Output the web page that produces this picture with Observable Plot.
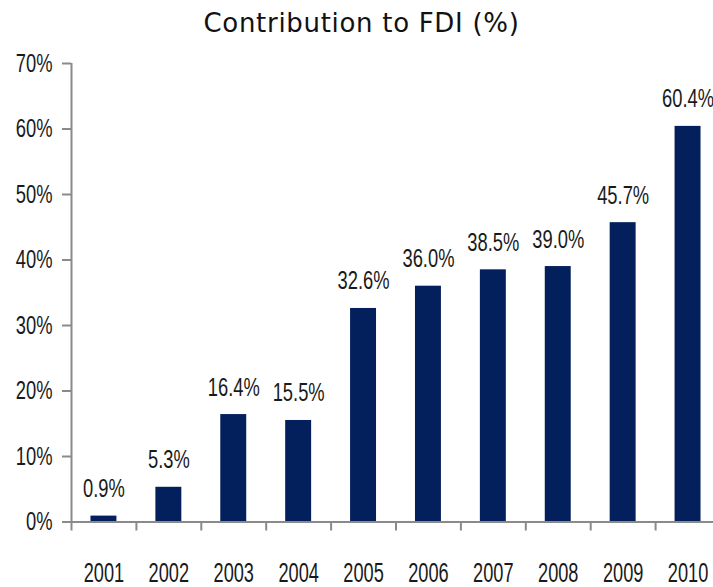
<!DOCTYPE html>
<html>
<head>
<meta charset="utf-8">
<script src="https://cdn.jsdelivr.net/npm/d3@7"></script>
<script src="https://cdn.jsdelivr.net/npm/@observablehq/plot@0.6"></script>
<style>
  html, body { margin: 0; padding: 0; background: #fff; overflow: hidden; }
  #wrap { position: relative; width: 713px; height: 587px; }
  #chart { position: absolute; top: 0; left: 0; }
  #title { position: absolute; top: 8px; left: 5px; width: 713px; text-align: center;
           font-family: "DejaVu Sans", "Open Sans", sans-serif; font-size: 26px; letter-spacing: 0.7px;
           color: #111; line-height: 30px; }
</style>
</head>
<body>
<div id="wrap">
  <div id="chart"></div>
  <div id="title">Contribution to FDI (%)</div>
</div>
<script>
const years = [2001, 2002, 2003, 2004, 2005, 2006, 2007, 2008, 2009, 2010];
const values = [0.9, 5.3, 16.4, 15.5, 32.6, 36.0, 38.5, 39.0, 45.7, 60.4];
const yTicks = [0, 10, 20, 30, 40, 50, 60, 70];
const boundaries = [2000.5, 2001.5, 2002.5, 2003.5, 2004.5, 2005.5, 2006.5, 2007.5, 2008.5, 2009.5, 2010.5];

const data = years.map((y, i) => ({year: y, value: values[i]}));
const half = 0.2;
const navy = "#03205c";
const gray = "#8a8a8a";
const labelSize = 25.5, yearSize = 28;
const squeeze = {[labelSize]: 0.72, [yearSize]: 0.65};

const chart = Plot.plot({
  width: 713,
  height: 587,
  marginTop: 63,
  marginBottom: 65.5,
  marginLeft: 71,
  marginRight: -7,
  style: {fontFamily: "'Liberation Sans', Arial, sans-serif", color: "#1a1a1a", background: "transparent"},
  x: {domain: [2000.5, 2010.5], label: null},
  y: {domain: [0, 70], label: null},
  marks: [
    Plot.rectY(data, {x1: d => d.year - half, x2: d => d.year + half, y: "value", fill: navy}),
    Plot.text(data, {x: "year", y: "value", text: d => d.value.toFixed(1) + "%", lineAnchor: "bottom", dy: -19, fontSize: labelSize, fill: "#1a1a1a"}),
    Plot.axisY({ticks: yTicks, tickFormat: d => d + "%", tickSize: 9, tickPadding: 10, stroke: gray, strokeWidth: 2, strokeOpacity: 1, fontSize: labelSize, label: null}),
    Plot.ruleX([2000.5], {y1: 0, y2: 70, stroke: gray, strokeWidth: 2}),
    Plot.ruleY([0], {stroke: gray, strokeWidth: 2}),
    Plot.axisX({ticks: boundaries, tickSize: 9, tickFormat: () => "", stroke: gray, strokeWidth: 2, strokeOpacity: 1, label: null}),
    Plot.axisX({ticks: years, tickSize: 0, tickPadding: 40, tickFormat: d => String(d), fontSize: yearSize, label: null})
  ]
});
// condensed look: squeeze each text horizontally around its own anchor
chart.querySelectorAll("text").forEach(t => {
  const g = t.closest("[font-size]");
  const fs = g ? parseFloat(g.getAttribute("font-size")) : labelSize;
  const s = squeeze[fs] || 0.72;
  const ax = parseFloat(t.getAttribute("x") || 0);
  const tr = t.getAttribute("transform") || "";
  t.setAttribute("transform", `${tr} translate(${ax},0) scale(${s},1) translate(${-ax},0)`);
});
document.getElementById("chart").appendChild(chart);
</script>
</body>
</html>
